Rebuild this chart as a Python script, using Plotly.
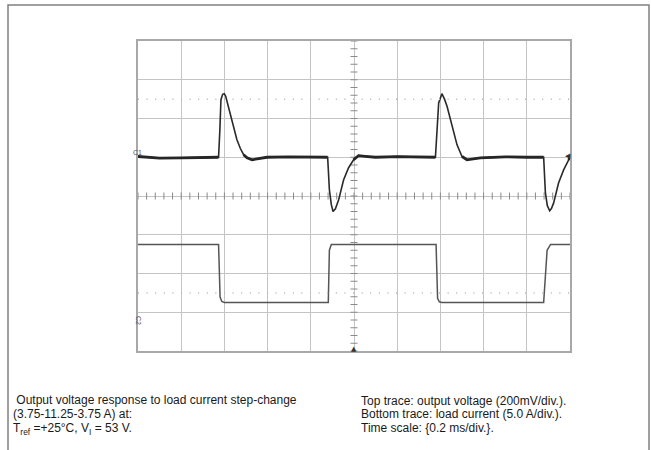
import plotly.graph_objects as go

# Scope capture: output voltage (top, mV relative to C1 level) and load current (bottom, A)
# time axis in ms, 0.2 ms/div, 10 div
time_v = [0, 0.05, 0.1, 0.2, 0.3, 0.373, 0.379, 0.384, 0.392, 0.3995, 0.406, 0.413, 0.427, 0.442,
          0.458, 0.474, 0.489, 0.505, 0.528, 0.557, 0.597, 0.7, 0.8, 0.878, 0.886, 0.895, 0.903,
          0.914, 0.929, 0.952, 0.975, 0.998, 1.021, 1.052, 1.099, 1.2, 1.3, 1.377, 1.385, 1.392,
          1.407, 1.419, 1.431, 1.454, 1.477, 1.5, 1.523, 1.585, 1.7, 1.8, 1.878, 1.886, 1.895,
          1.906, 1.914, 1.924, 1.947, 1.971, 1.994, 2.0]
volt_mv = [4, 0, -4, -3, 0, 0, 140, 297, 325, 328, 315, 286, 230, 160,
           90, 45, 13, -3, -13, -8, 0, 2, 0, 0, -168, -245, -280,
           -266, -219, -116, -54, -13, 8, 5, 0, 3, 0, 0, 150, 280,
           328, 300, 262, 159, 64, 4, -13, -3, 2, 0, 0, -183, -250,
           -276, -265, -237, -133, -64, -13, 0]

time_i = [0, 0.373, 0.380, 0.388, 0.40, 0.881, 0.886, 0.895, 1.38, 1.387, 1.395, 1.407,
          1.878, 1.894, 1.91, 2.0]
current_a = [11.25, 11.25, 4.47, 3.9, 3.75, 3.75, 10.5, 11.25, 11.25, 4.3, 3.85, 3.75,
             3.75, 10.5, 11.25, 11.25]

caption_left = [" Output voltage response to load current step-change",
                "(3.75-11.25-3.75 A) at:",
                "T<sub>ref</sub> =+25°C, V<sub>I</sub> = 53 V."]
caption_right = ["Top trace: output voltage (200mV/div.).",
                 "Bottom trace: load current (5.0 A/div.).",
                 "Time scale: {0.2 ms/div.}."]

# plot area in pixels
L, R, T, B = 138, 570, 41, 351


def px(x):
    return (x - L) / (R - L)


def py(y):
    return (B - y) / (B - T)


fig = go.Figure()

# graticule ticks on the centre lines
fig.add_trace(go.Scatter(x=[1.0] * 41, y=[-1000 + 40 * k for k in range(41)], mode='markers',
                         marker=dict(symbol='line-ew', size=5, line=dict(width=1, color='#8a8a8a')),
                         hoverinfo='skip', showlegend=False))
fig.add_trace(go.Scatter(x=[0.04 * k for k in range(51)], y=[-200] * 51, mode='markers',
                         marker=dict(symbol='line-ns', size=5, line=dict(width=1, color='#8a8a8a')),
                         hoverinfo='skip', showlegend=False))

# voltage: thin through the transients, thicker (noisy) along the flat level
fig.add_trace(go.Scatter(x=time_v, y=volt_mv, mode='lines',
                         line=dict(color='#2a2a2a', width=1.6), showlegend=False))
flat_v = [v if abs(v) <= 15 else None for v in volt_mv]
fig.add_trace(go.Scatter(x=time_v, y=flat_v, mode='lines', connectgaps=False,
                         line=dict(color='#262626', width=2.8), showlegend=False))
fig.add_trace(go.Scatter(x=time_i, y=current_a, mode='lines', yaxis='y2',
                         line=dict(color='#555555', width=1.5), showlegend=False))

axis_style = dict(showgrid=True, gridcolor='#c4c4c4', gridwidth=1.3, zeroline=False,
                  showticklabels=False, ticks='', showline=True, mirror=True,
                  linecolor='#a8a8a8', linewidth=1.6)

fig.update_layout(
    width=651, height=450,
    margin=dict(l=L, r=651 - R, t=T, b=450 - B),
    paper_bgcolor='white', plot_bgcolor='white',
    font=dict(family='Liberation Sans, Arial, sans-serif', size=12, color='#1a1a1a'),
    xaxis=dict(range=[0, 2.0], tick0=0, dtick=0.2, **axis_style),
    yaxis=dict(range=[-1000, 600], tick0=-1000, dtick=200, **axis_style),
    yaxis2=dict(range=[-2.5, 37.5], overlaying='y', visible=False),
    shapes=[
        dict(type='line', xref='x', yref='y', x0=0, x1=2.0, y0=300, y1=300,
             line=dict(color='#b4b4b4', width=1.5, dash='1px,7.6px')),
        dict(type='line', xref='x', yref='y', x0=0, x1=2.0, y0=-700, y1=-700,
             line=dict(color='#b4b4b4', width=1.5, dash='1px,7.6px')),
        dict(type='rect', xref='paper', yref='paper', x0=px(8), x1=px(649), y0=py(455), y1=py(5),
             line=dict(color='#808080', width=1.5), layer='below'),
    ],
)

# channel labels and trigger / level markers
fig.add_annotation(x=px(131), y=py(152), xref='paper', yref='paper', text='C1', showarrow=False,
                   font=dict(size=7, color='#555555'))
fig.add_annotation(x=px(133), y=py(327), xref='paper', yref='paper', text='C2', showarrow=False,
                   textangle=90, font=dict(size=7, color='#555555'))
fig.add_annotation(x=px(354), y=py(355), xref='paper', yref='paper', text='▲', showarrow=False,
                   font=dict(family='DejaVu Sans', size=7, color='#333333'))
fig.add_annotation(x=px(573), y=py(156), xref='paper', yref='paper', text='◀', showarrow=False,
                   font=dict(family='DejaVu Sans', size=7, color='#333333'))

for k, (yl, yr) in enumerate(zip([399.5, 414, 428.5], [400.5, 414.3, 427.8])):
    fig.add_annotation(x=px(11), y=py(yl), xref='paper', yref='paper', text=caption_left[k],
                       showarrow=False, xanchor='left', yanchor='middle')
    fig.add_annotation(x=px(359), y=py(yr), xref='paper', yref='paper', text=caption_right[k],
                       showarrow=False, xanchor='left', yanchor='middle')

# the page's default body margin would shift the figure by 8px
fig.write_html("out.html", config={'displayModeBar': False},
               post_script="document.body.style.margin='0';")
